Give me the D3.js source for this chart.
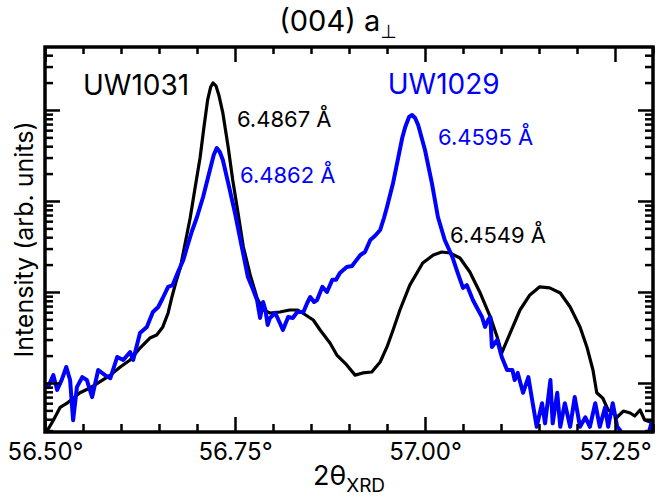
<!DOCTYPE html>
<html lang="en">
<head>
<meta charset="UTF-8">
<title>(004) XRD</title>
<style>
  body { margin: 0; background: #fff; }
  svg { display: block; font-family: "Inter", "Liberation Sans", sans-serif; }
</style>
</head>
<body>
<div id="chart"></div>
<script src="https://cdn.jsdelivr.net/npm/d3@7"></script>
<script>
// 2theta (deg) and intensity (arb. units)
const uw1031X = [56.500, 56.503, 56.511, 56.520, 56.529, 56.537, 56.546, 56.559, 56.572, 56.586,
  56.599, 56.612, 56.625, 56.638, 56.647, 56.655, 56.662, 56.667, 56.672, 56.678,
  56.684, 56.691, 56.697, 56.704, 56.709, 56.714, 56.718, 56.721, 56.725, 56.729,
  56.734, 56.741, 56.747, 56.754, 56.761, 56.770, 56.779, 56.787, 56.796, 56.809,
  56.822, 56.832, 56.839, 56.853, 56.862, 56.875, 56.884, 56.897, 56.908, 56.918,
  56.930, 56.941, 56.950, 56.958, 56.967, 56.980, 56.997, 57.011, 57.022, 57.033,
  57.046, 57.059, 57.072, 57.086, 57.095, 57.101, 57.112, 57.125, 57.138, 57.151,
  57.164, 57.178, 57.191, 57.204, 57.213, 57.221, 57.226, 57.234, 57.241, 57.247,
  57.253, 57.261, 57.270, 57.276, 57.283, 57.289, 57.300];
const uw1031Y = [2.9, 3.0, 3.9, 5.4, 6.0, 6.8, 7.8, 8.8, 10.3, 12.2,
  15.0, 17.9, 24.2, 31.2, 33.7, 41.3, 58.8, 88.1, 126, 184,
  329, 650, 1320, 2970, 6340, 12900, 17900, 19800, 18400, 14300,
  9270, 3920, 1700, 738, 312, 154, 85.9, 63.4, 58.8, 60.3,
  63.4, 63.4, 58.8, 49.2, 38.2, 27.5, 20.3, 15.8, 12.2, 12.9,
  13.2, 17.0, 24.9, 38.2, 63.4, 119, 208, 255, 275, 268,
  236, 166, 100, 53.1, 32.0, 21.4, 35.4, 63.4, 92.7, 114,
  111, 97.5, 68.4, 41.3, 24.9, 13.9, 7.8, 6.8, 5.05, 4.68,
  4.23, 4.92, 4.68, 4.34, 5.05, 3.92, 3.63];

const uw1029X = [56.500, 56.504, 56.511, 56.516, 56.522, 56.528, 56.533, 56.537, 56.542, 56.549,
  56.555, 56.562, 56.570, 56.579, 56.586, 56.595, 56.603, 56.612, 56.616, 56.625,
  56.634, 56.642, 56.649, 56.655, 56.662, 56.668, 56.675, 56.682, 56.687, 56.693,
  56.700, 56.708, 56.717, 56.722, 56.726, 56.730, 56.734, 56.741, 56.750, 56.759,
  56.767, 56.774, 56.779, 56.783, 56.787, 56.790, 56.793, 56.796, 56.803, 56.809,
  56.813, 56.820, 56.826, 56.832, 56.840, 56.845, 56.849, 56.854, 56.858, 56.865,
  56.871, 56.878, 56.883, 56.888, 56.897, 56.904, 56.908, 56.915, 56.921, 56.928,
  56.934, 56.941, 56.946, 56.950, 56.958, 56.965, 56.970, 56.974, 56.979, 56.983,
  56.987, 56.991, 57.000, 57.009, 57.017, 57.026, 57.036, 57.043, 57.050, 57.055,
  57.063, 57.070, 57.075, 57.079, 57.083, 57.086, 57.088, 57.095, 57.101, 57.108,
  57.115, 57.118, 57.122, 57.129, 57.136, 57.141, 57.147, 57.154, 57.158, 57.165,
  57.168, 57.174, 57.178, 57.184, 57.191, 57.197, 57.204, 57.211, 57.217, 57.224,
  57.230, 57.237, 57.241, 57.247, 57.253, 57.257, 57.263, 57.272, 57.283, 57.292,
  57.299];
const uw1029Y = [10.0, 9.0, 12.2, 8.4, 10.8, 15.0, 10.8, 3.9, 9.0, 11.6,
  10.8, 7.0, 13.9, 12.2, 11.3, 19.3, 17.9, 21.9, 17.9, 35.4,
  41.3, 60.3, 68.4, 85.9, 114, 119, 166, 225, 312, 456,
  667, 1107, 2190, 3200, 3820, 3450, 2820, 1580, 738, 312,
  146, 105, 81.7, 51.8, 77.7, 63.4, 43.4, 51.8, 58.8, 45.6,
  38.2, 53.1, 51.8, 60.3, 60.3, 75.7, 88.1, 77.7, 81.7, 114,
  100, 136, 136, 162, 188, 193, 214, 255, 275, 373,
  412, 480, 650, 859, 1580, 3050, 4920, 6500, 8380, 8810,
  8170, 6840, 3630, 1580, 667, 373, 243, 162, 111, 119,
  81.7, 63.4, 53.1, 41.3, 49.2, 53.1, 24.9, 29.7, 19.3, 13.9,
  13.9, 10.8, 12.9, 7.8, 11.6, 6.5, 3.3, 6.0, 3.6, 10.8,
  3.6, 7.8, 3.3, 6.0, 3.3, 7.0, 3.3, 4.2, 3.3, 6.0,
  3.3, 5.4, 3.3, 6.0, 3.3, 3.0, 2.4, 2.4, 2.4, 2.4,
  3.9];

const xMajorTicks = [56.50, 56.75, 57.00, 57.25];
const xTickLabels = ["56.50°", "56.75°", "57.00°", "57.25°"];
const xMinorTicks = [56.55, 56.60, 56.65, 56.70, 56.80, 56.85, 56.90, 56.95,
  57.05, 57.10, 57.15, 57.20, 57.30];
const yDecades = [10, 100, 1000, 10000];

// annotations: [text, 2theta, intensity, colour, size]
const labels = [
  ["UW1031", 56.550, 14600, "#000", 28],
  ["UW1029", 56.951, 15000, "#0000ff", 28],
  ["6.4867 Å", 56.7526, 6500, "#000", 22],
  ["6.4862 Å", 56.7566, 1580, "#0000ff", 22],
  ["6.4595 Å", 57.0171, 4120, "#0000ff", 22],
  ["6.4549 Å", 57.0329, 345, "#000", 22]
];

const width = 659, height = 502;
const margin = {top: 47, right: 6, bottom: 70, left: 45};
const iw = width - margin.left - margin.right;
const ih = height - margin.top - margin.bottom;

const svg = d3.select("#chart").append("svg")
  .attr("width", width).attr("height", height);

const x = d3.scaleLinear().domain([56.5, 57.3]).range([0, iw]);
const y = d3.scaleLog().domain([2.894, 49200]).range([ih, 0]);

const g = svg.append("g").attr("transform", `translate(${margin.left},${margin.top})`);

g.append("clipPath").attr("id", "plotclip")
  .append("rect").attr("width", iw).attr("height", ih);

const line = d3.line().x(d => x(d[0])).y(d => y(d[1]));

const plot = g.append("g").attr("clip-path", "url(#plotclip)");
plot.append("path")
  .datum(d3.zip(uw1031X, uw1031Y))
  .attr("d", line)
  .attr("fill", "none").attr("stroke", "#000")
  .attr("stroke-width", 3.2).attr("stroke-linejoin", "round");
plot.append("path")
  .datum(d3.zip(uw1029X, uw1029Y))
  .attr("d", line)
  .attr("fill", "none").attr("stroke", "#0000ff")
  .attr("stroke-width", 4).attr("stroke-linejoin", "round");

// log minor ticks
const yMinor = [];
yDecades.concat([1]).forEach(dec => {
  for (let m = 2; m <= 9; m++) {
    const v = dec * m;
    if (v > y.domain()[0] && v < y.domain()[1]) yMinor.push(v);
  }
});

function styleAxis(sel) {
  sel.select(".domain").remove();
  sel.selectAll(".tick line").attr("stroke", "#000").attr("stroke-width", 2.5);
}

// x axes (ticks point inward)
g.append("g").attr("transform", `translate(0,${ih})`)
  .call(d3.axisBottom(x).tickValues(xMinorTicks).tickSize(-8).tickFormat(""))
  .call(styleAxis);
g.append("g").attr("transform", `translate(0,${ih})`)
  .call(d3.axisBottom(x).tickValues(xMajorTicks).tickSize(-15).tickPadding(11)
    .tickFormat((d, i) => xTickLabels[i]))
  .call(styleAxis)
  .selectAll("text").attr("font-size", 24).attr("fill", "#000")
  .attr("font-family", "Inter, Liberation Sans, sans-serif");
g.append("g")
  .call(d3.axisTop(x).tickValues(xMinorTicks).tickSize(-7).tickFormat(""))
  .call(styleAxis);
g.append("g")
  .call(d3.axisTop(x).tickValues(xMajorTicks).tickSize(-15).tickFormat(""))
  .call(styleAxis);

// y axes (log, no labels)
g.append("g")
  .call(d3.axisLeft(y).tickValues(yMinor).tickSize(-8).tickFormat(""))
  .call(styleAxis);
g.append("g")
  .call(d3.axisLeft(y).tickValues(yDecades).tickSize(-15).tickFormat(""))
  .call(styleAxis);
g.append("g").attr("transform", `translate(${iw},0)`)
  .call(d3.axisRight(y).tickValues(yMinor).tickSize(-8).tickFormat(""))
  .call(styleAxis);
g.append("g").attr("transform", `translate(${iw},0)`)
  .call(d3.axisRight(y).tickValues(yDecades).tickSize(-15).tickFormat(""))
  .call(styleAxis);

// frame
g.append("rect")
  .attr("width", iw).attr("height", ih)
  .attr("fill", "none").attr("stroke", "#000").attr("stroke-width", 3.5);

// annotations
g.selectAll("text.ann").data(labels).join("text")
  .attr("class", "ann")
  .attr("x", d => x(d[1])).attr("y", d => y(d[2]))
  .attr("fill", d => d[3]).attr("font-size", d => d[4])
  .text(d => d[0]);

// title
const title = svg.append("text")
  .attr("x", 338).attr("y", 31)
  .attr("text-anchor", "middle").attr("font-size", 29).attr("fill", "#000");
title.append("tspan").text("(004) a");
title.append("tspan").attr("dy", 7).attr("font-size", 19)
  .attr("font-family", "DejaVu Sans").attr("fill", "#000").text("⊥");

// axis titles
const xl = svg.append("text")
  .attr("x", margin.left + iw / 2).attr("y", 485)
  .attr("text-anchor", "middle").attr("font-size", 27).attr("fill", "#000");
xl.append("tspan").text("2θ");
xl.append("tspan").attr("dy", 7).attr("font-size", 19).text("XRD");

svg.append("text")
  .attr("transform", `translate(33,${margin.top + ih / 2}) rotate(-90)`)
  .attr("text-anchor", "middle").attr("font-size", 25).attr("fill", "#000")
  .text("Intensity (arb. units)");
</script>
</body>
</html>
